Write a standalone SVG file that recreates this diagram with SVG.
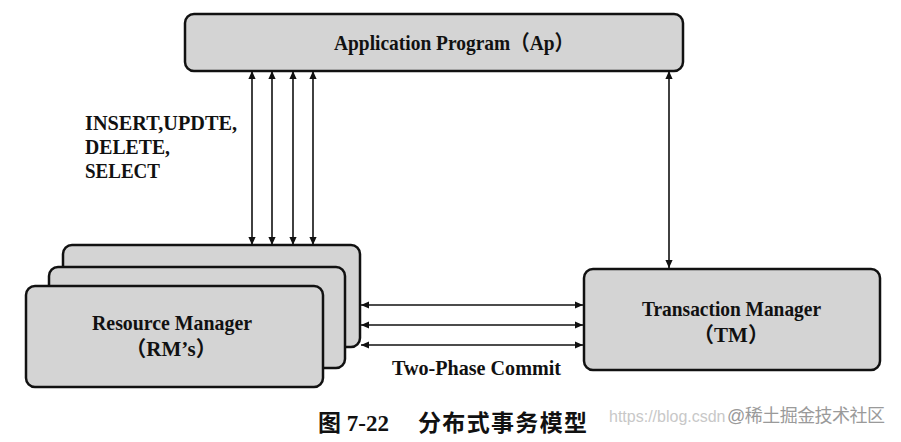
<svg xmlns="http://www.w3.org/2000/svg" width="901" height="442" viewBox="0 0 901 442">
  <style>
    .box { fill: #d4d4d4; stroke: #111; stroke-width: 2.5; }
    .lbl { font-family: "Liberation Serif", "Noto Sans CJK SC", serif; font-weight: bold; fill: #111; }
    .conn line { stroke: #111; stroke-width: 1.6; }
    .wm { font-family: "Liberation Sans", "Noto Sans CJK SC", sans-serif; }
  </style>
  <defs>
    <marker id="ah" viewBox="0 0 10 10" refX="10" refY="5" markerWidth="8" markerHeight="8" markerUnits="userSpaceOnUse" orient="auto-start-reverse">
      <path d="M0,0.5 L10,5 L0,9.5 z" fill="#111"/>
    </marker>
  </defs>
  <rect width="901" height="442" fill="#fff"/>

  <g id="ap">
    <rect class="box" x="185" y="14" width="498" height="57" rx="9"/>
    <text class="lbl" x="334" y="50" font-size="21" textLength="240" lengthAdjust="spacingAndGlyphs">Application Program（Ap）</text>
  </g>

  <g id="rm">
    <rect class="box" x="63" y="245" width="297" height="102" rx="9"/>
    <rect class="box" x="49" y="267" width="296" height="101" rx="9"/>
    <rect class="box" x="26" y="286" width="297" height="101" rx="9"/>
    <text class="lbl" x="92" y="330" font-size="21" textLength="160" lengthAdjust="spacingAndGlyphs">Resource Manager</text>
    <text class="lbl" x="171" y="356" font-size="21" text-anchor="middle">（RM’s）</text>
  </g>

  <g id="tm">
    <rect class="box" x="584" y="269" width="296" height="101" rx="9"/>
    <text class="lbl" x="642" y="316" font-size="21" textLength="179" lengthAdjust="spacingAndGlyphs">Transaction Manager</text>
    <text class="lbl" x="731" y="342" font-size="21" text-anchor="middle">（TM）</text>
  </g>

  <g id="connectors" class="conn">
    <line x1="252" y1="245" x2="252" y2="71" marker-start="url(#ah)" marker-end="url(#ah)"/>
    <line x1="272" y1="245" x2="272" y2="71" marker-start="url(#ah)" marker-end="url(#ah)"/>
    <line x1="293" y1="245" x2="293" y2="71" marker-start="url(#ah)" marker-end="url(#ah)"/>
    <line x1="313" y1="245" x2="313" y2="71" marker-start="url(#ah)" marker-end="url(#ah)"/>
    <line x1="669" y1="268" x2="669" y2="71" marker-start="url(#ah)" marker-end="url(#ah)"/>
    <line x1="361" y1="305" x2="583" y2="305" marker-start="url(#ah)" marker-end="url(#ah)"/>
    <line x1="361" y1="325" x2="583" y2="325" marker-start="url(#ah)" marker-end="url(#ah)"/>
    <line x1="361" y1="345" x2="583" y2="345" marker-start="url(#ah)" marker-end="url(#ah)"/>
  </g>

  <g id="labels">
    <text class="lbl" x="85" y="130" font-size="20" textLength="152" lengthAdjust="spacingAndGlyphs">INSERT,UPDTE,</text>
    <text class="lbl" x="85" y="154" font-size="20" textLength="85" lengthAdjust="spacingAndGlyphs">DELETE,</text>
    <text class="lbl" x="85" y="178" font-size="20" textLength="75" lengthAdjust="spacingAndGlyphs">SELECT</text>
    <text class="lbl" x="392" y="375" font-size="21" textLength="169" lengthAdjust="spacingAndGlyphs">Two-Phase Commit</text>
  </g>

  <g id="caption">
    <text class="lbl" x="318" y="431" font-size="23">图 7-22</text>
    <text class="lbl" x="418" y="431" font-size="23" textLength="169" lengthAdjust="spacing">分布式事务模型</text>
    <text class="wm" x="609" y="422" font-size="16" fill="#c8c8c8">https://blog.csdn</text>
    <text class="wm" x="727" y="422" font-size="18" fill="#9a9a9a" textLength="158" lengthAdjust="spacing">@稀土掘金技术社区</text>
  </g>
</svg>
